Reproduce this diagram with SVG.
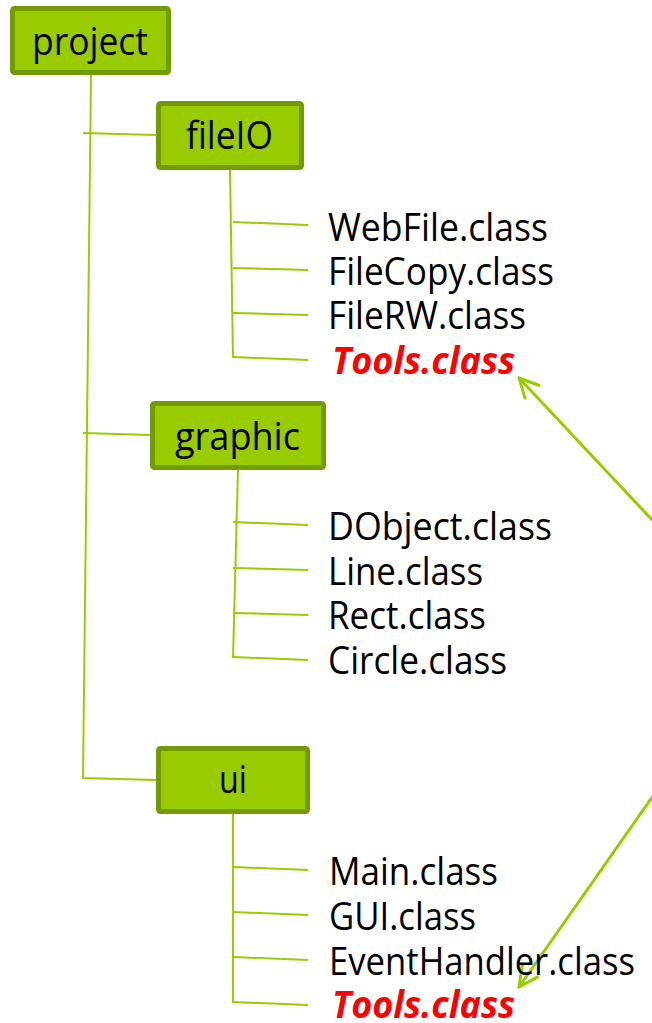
<svg xmlns="http://www.w3.org/2000/svg" width="652" height="1023" viewBox="0 0 652 1023">
<style>
.box{fill:#99cc00;stroke:#739a00;stroke-width:5}
.bt{font-family:"Open Sans","Noto Sans",sans-serif;font-size:39px;fill:#000;text-anchor:start}
.lf{font-family:"Open Sans","Noto Sans",sans-serif;font-size:39px;fill:#000}
.red{font-family:"Open Sans","Noto Sans",sans-serif;font-size:38px;fill:#ff0000;font-weight:bold;font-style:italic}
.ln{stroke:#99cc00;stroke-width:2;fill:none}
.ar{stroke:#99cc00;stroke-width:3;fill:none}
</style>
<defs>
<marker id="head" viewBox="0 0 24 24" refX="22" refY="12" markerWidth="24" markerHeight="24" markerUnits="userSpaceOnUse" orient="auto">
<path d="M2,2 L22,12 L2,22" fill="none" stroke="#99cc00" stroke-width="3"/>
</marker>
</defs>
<g id="connectors">
<path class="ln" d="M91,75 L83,778 L156,780"/>
<path class="ln" d="M83,133 L156,135"/>
<path class="ln" d="M83,433 L151,435"/>
<path class="ln" d="M230,170 L233,358"/>
<path class="ln" d="M233,222 L308,225"/>
<path class="ln" d="M233,268 L308,270"/>
<path class="ln" d="M233,313 L308,315"/>
<path class="ln" d="M233,357 L308,360"/>
<path class="ln" d="M238,469 L233,658"/>
<path class="ln" d="M233,522 L308,525"/>
<path class="ln" d="M233,568 L308,570"/>
<path class="ln" d="M233,613 L308,615"/>
<path class="ln" d="M233,657 L308,660"/>
<path class="ln" d="M233,814 L233,1003"/>
<path class="ln" d="M233,867 L308,870"/>
<path class="ln" d="M233,912 L308,915"/>
<path class="ln" d="M233,957 L308,960"/>
<path class="ln" d="M233,1002 L308,1005"/>
<path class="ar" d="M655,523 L519,378" marker-end="url(#head)"/>
<path class="ar" d="M655,793 L519,987" marker-end="url(#head)"/>
</g>
<g id="project">
<rect class="box" x="12.5" y="8.5" width="156" height="64" rx="2"/>
<text class="bt" x="32" y="55" textLength="116" lengthAdjust="spacingAndGlyphs">project</text>
</g>
<g id="fileIO">
<rect class="box" x="158.5" y="103.5" width="143" height="64" rx="2"/>
<text class="bt" x="186" y="149" textLength="87" lengthAdjust="spacingAndGlyphs">fileIO</text>
</g>
<g id="fileIO-leaves">
<text class="lf" x="328" y="241" textLength="220" lengthAdjust="spacingAndGlyphs">WebFile.class</text>
<text class="lf" x="328" y="285" textLength="226" lengthAdjust="spacingAndGlyphs">FileCopy.class</text>
<text class="lf" x="328" y="329" textLength="198" lengthAdjust="spacingAndGlyphs">FileRW.class</text>
<text class="red" x="332" y="374" textLength="183" lengthAdjust="spacingAndGlyphs">Tools.class</text>
</g>
<g id="graphic">
<rect class="box" x="152.5" y="403.5" width="171" height="64" rx="2"/>
<text class="bt" x="175" y="450" textLength="125" lengthAdjust="spacingAndGlyphs">graphic</text>
</g>
<g id="graphic-leaves">
<text class="lf" x="328" y="540" textLength="224" lengthAdjust="spacingAndGlyphs">DObject.class</text>
<text class="lf" x="328" y="585" textLength="155" lengthAdjust="spacingAndGlyphs">Line.class</text>
<text class="lf" x="328" y="629" textLength="158" lengthAdjust="spacingAndGlyphs">Rect.class</text>
<text class="lf" x="328" y="674" textLength="179" lengthAdjust="spacingAndGlyphs">Circle.class</text>
</g>
<g id="ui">
<rect class="box" x="158.5" y="748.5" width="149" height="63" rx="2"/>
<text class="bt" x="219" y="793" textLength="28" lengthAdjust="spacingAndGlyphs">ui</text>
</g>
<g id="ui-leaves">
<text class="lf" x="329" y="885" textLength="169" lengthAdjust="spacingAndGlyphs">Main.class</text>
<text class="lf" x="329" y="930" textLength="147" lengthAdjust="spacingAndGlyphs">GUI.class</text>
<text class="lf" x="329" y="975" textLength="306" lengthAdjust="spacingAndGlyphs">EventHandler.class</text>
<text class="red" x="332" y="1018" textLength="183" lengthAdjust="spacingAndGlyphs">Tools.class</text>
</g>
</svg>
